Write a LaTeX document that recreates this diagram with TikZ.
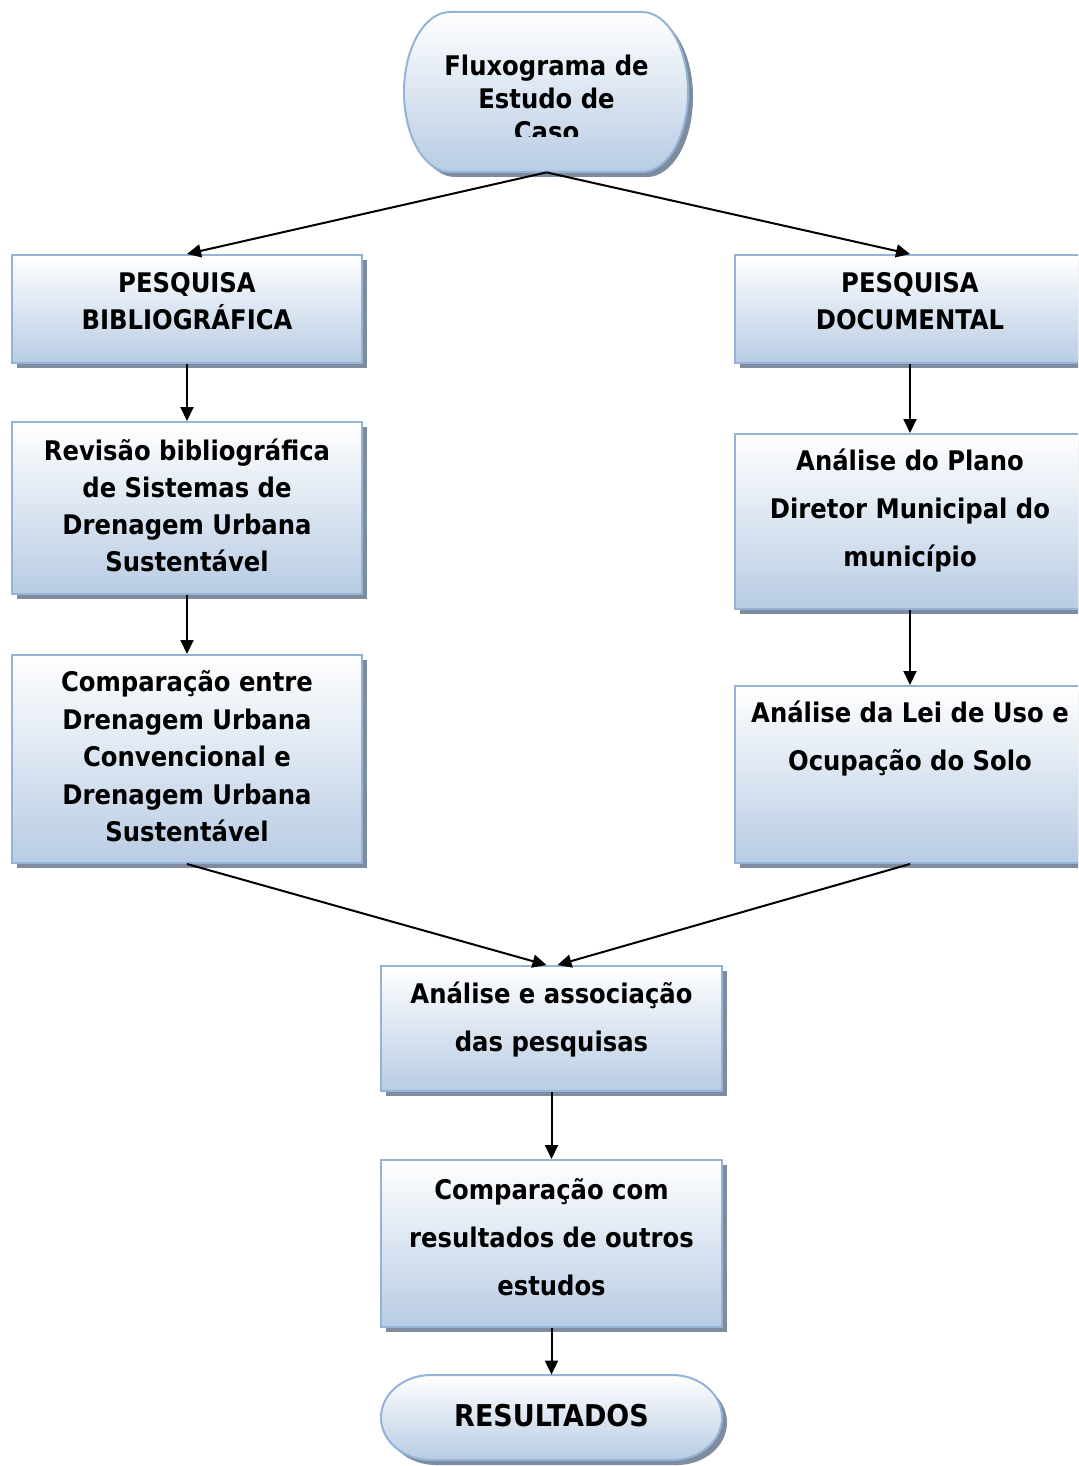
\documentclass[tikz,border=0pt]{standalone}
\usepackage{fontspec}
\setmainfont{DejaVu Sans Condensed}
\usetikzlibrary{positioning,arrows.meta,shadows}
\definecolor{boxline}{HTML}{95B3D7}
\definecolor{boxbottom}{HTML}{B8CCE4}
\definecolor{shadowgray}{HTML}{7F8CA0}

\begin{document}
\begin{tikzpicture}[
    x=0.5pt, y=-0.5pt,
    >={Triangle[length=7pt,width=6.5pt]},
    flowbox/.style={
        draw=boxline,
        line width=1pt,
        top color=white,
        bottom color=boxbottom,
        drop shadow={shadow xshift=2.5pt,shadow yshift=-2.5pt,fill=shadowgray,opacity=1},
        inner sep=0pt,
    },
    boxtext/.style={
        align=center,
        inner sep=0pt,
        font={\fontsize{13.5pt}{#1}\selectfont\bfseries},
    },
    boxtext/.default=18.5pt,
    hidden/.style={inner sep=0pt,minimum width=141.5pt,minimum height=80pt},
    arrow/.style={->,line width=1pt},
]

% Page
\clip (0,0) rectangle (1078,1466);
\fill[white] (0,0) rectangle (1078,1466);

% Start terminal
\path[flowbox] (450,12) -- (642,12)
    arc[start angle=90,end angle=-90,x radius=23pt,y radius=40pt] -- (450,172)
    arc[start angle=270,end angle=90,x radius=23pt,y radius=40pt] -- cycle;
\node[hidden] (start) at (546.5,92) {};
\begin{scope}
    \clip (400,12) rectangle (700,137);
    \node[boxtext=16.5pt] (starttxt) at (546.5,98) {Fluxograma de\\Estudo de\\Caso};
\end{scope}

% Left branch
\node[flowbox,minimum width=175pt,minimum height=54pt] (bib) at (187,309) {};
\node[boxtext] (bibtxt) at (187,301) {PESQUISA\\BIBLIOGRÁFICA};

\node[flowbox,minimum width=175pt,minimum height=86pt] (rev) at (187,508) {};
\node[boxtext] (revtxt) at (187,505) {Revisão bibliográfica\\de Sistemas de\\Drenagem Urbana\\Sustentável};

\node[flowbox,minimum width=175pt,minimum height=104pt] (comp) at (187,759) {};
\node[boxtext=18.75pt] (comptxt) at (187,756.5) {Comparação entre\\Drenagem Urbana\\Convencional e\\Drenagem Urbana\\Sustentável};

% Right branch
\node[flowbox,minimum width=175pt,minimum height=54pt] (doc) at (910,309) {};
\node[boxtext] (doctxt) at (910,301) {PESQUISA\\DOCUMENTAL};

\node[flowbox,minimum width=175pt,minimum height=87.5pt] (plano) at (910,521.5) {};
\node[boxtext=24pt] (planotxt) at (910,511) {Análise do Plano\\Diretor Municipal do\\município};

\node[flowbox,minimum width=175pt,minimum height=88.5pt] (lei) at (910,774.5) {};
\node[boxtext=24pt] (leitxt) at (910,739) {Análise da Lei de Uso e\\Ocupação do Solo};

% Merge
\node[flowbox,minimum width=170.5pt,minimum height=62.5pt] (assoc) at (551.5,1028.5) {};
\node[boxtext=24pt] (assoctxt) at (551.5,1019.5) {Análise e associação\\das pesquisas};

\node[flowbox,minimum width=170.5pt,minimum height=83.5pt] (outros) at (551.5,1243.5) {};
\node[boxtext=24pt] (outrostxt) at (551.5,1237) {Comparação com\\resultados de outros\\estudos};

% End terminal
\path[flowbox] (431,1375) -- (672,1375)
    arc[start angle=90,end angle=-90,x radius=25pt,y radius=21.25pt] -- (431,1460)
    arc[start angle=270,end angle=90,x radius=25pt,y radius=21.25pt] -- cycle;
\node[hidden,minimum width=170.5pt,minimum height=42.5pt] (fim) at (551.5,1417.5) {};
\node[boxtext,font={\fontsize{15pt}{18pt}\selectfont\bfseries}] (fimtxt) at (551.5,1416) {RESULTADOS};

% Connectors
\draw[arrow] (start.south) -- (bib.north);
\draw[arrow] (start.south) -- (doc.north);
\draw[arrow] (bib) -- (rev);
\draw[arrow] (rev) -- (comp);
\draw[arrow] (doc) -- (plano);
\draw[arrow] (plano) -- (lei);
\draw[arrow] (comp.south) -- ([xshift=-2.5pt]assoc.north);
\draw[arrow] (lei.south) -- ([xshift=3pt]assoc.north);
\draw[arrow] (assoc) -- (outros);
\draw[arrow] (outros.south) -- (fim.north);

\end{tikzpicture}
\end{document}
